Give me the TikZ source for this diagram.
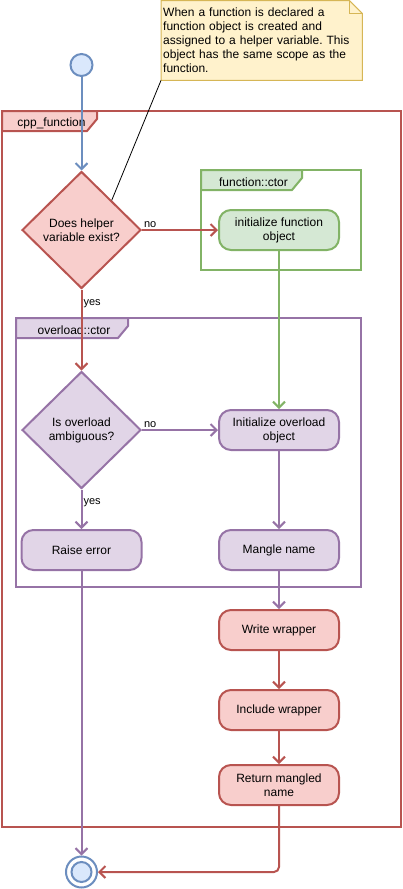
\documentclass[tikz,border=0pt]{standalone}
\usepackage{fontspec}
\setmainfont{Liberation Sans}
\usetikzlibrary{arrows.meta,shapes.geometric,backgrounds}
\definecolor{rd}{HTML}{B85450}\definecolor{rdf}{HTML}{F8CECC}
\definecolor{gn}{HTML}{82B366}\definecolor{gnf}{HTML}{D5E8D4}
\definecolor{pu}{HTML}{9673A6}\definecolor{puf}{HTML}{E1D5E7}
\definecolor{bl}{HTML}{6C8EBF}\definecolor{blf}{HTML}{DAE8FC}
\definecolor{nt}{HTML}{D6B656}\definecolor{ntf}{HTML}{FFF2CC}
\tikzset{>={Straight Barb[length=6pt,width=12pt]},every node/.style={font=\fontsize{12}{14}\selectfont,text=black},
act/.style={draw,line width=2pt,rounded corners=12pt,minimum width=120pt,minimum height=40pt,align=center,inner sep=0pt},
dec/.style={draw,line width=2pt,diamond,aspect=1,minimum width=119pt,minimum height=117pt,align=center,inner sep=0pt},
initial/.style={circle,draw=bl,fill=blf,line width=2pt,minimum size=22pt,inner sep=0pt},
final/.style={circle,draw=bl,fill=white,line width=2pt,minimum size=31pt,inner sep=0pt},
flow/.style={line width=2pt,->},frm/.style={line width=2pt},
lbl/.style={font=\fontsize{11}{13}\selectfont,inner sep=1pt},
notebox/.style={anchor=north west,text width=197pt,minimum height=79.5pt,inner sep=2pt,align=left}}
\newcommand{\umlframe}[8]{\draw[frm,#1] (#3,#4) rectangle (#5,#6);
\filldraw[frm,draw=#1,fill=#2] (#3,#4) -- ++(#7,0) -- ++(0,8) -- ++(-10,12) -- (#3,#4+20) -- cycle;
\node (tab-#1) at (#3+#7/2+2,#4+12) {#8};}
\frenchspacing

\begin{document}
\begin{tikzpicture}[x=1pt,y=-1pt]
\useasboundingbox (0,0) rectangle (403,889);
\umlframe{rd}{rdf}{2}{111}{401}{827}{95}{cpp\_function}
\umlframe{gn}{gnf}{201}{170}{361}{270}{101}{function::ctor}
\umlframe{pu}{puf}{16}{318}{361}{587}{112}{overload::ctor}
\node[notebox] (note) at (161,0.5) {When a function is declared a\\function object is created and\\assigned to a helper variable. This\\object has the same scope as the\\function.};
\begin{scope}[on background layer]
\filldraw[draw=nt,fill=ntf,line width=1pt] (note.north west) -- ([xshift=-13pt]note.north east) -- ([yshift=-13pt]note.north east) -- (note.south east) -- (note.south west) -- cycle;
\draw[nt,line width=1pt] ([xshift=-13pt]note.north east) |- ([yshift=-13pt]note.north east);
\end{scope}
\node[initial] (start) at (81.5,65) {};
\node[dec,draw=rd,fill=rdf] (helper) at (81.5,230) {Does helper\\variable exist?};
\node[act,draw=gn,fill=gnf] (initfun) at (279,230) {initialize function\\object};
\node[dec,draw=pu,fill=puf] (ambig) at (81.5,430) {Is overload\\ambiguous?};
\node[act,draw=pu,fill=puf] (initover) at (279,430) {Initialize overload\\object};
\node[act,draw=pu,fill=puf] (raise) at (81.5,550) {Raise error};
\node[act,draw=pu,fill=puf] (mangle) at (279,550) {Mangle name};
\node[act,draw=rd,fill=rdf] (write) at (279,630) {Write wrapper};
\node[act,draw=rd,fill=rdf] (include) at (279,710) {Include wrapper};
\node[act,draw=rd,fill=rdf] (ret) at (279,785) {Return mangled\\name};
\node[final] (stop) at (81.5,872) {};
\node[initial,minimum size=20pt] (stopin) at (stop) {};
\draw[line width=0.8pt] (note.south west) -- (helper.north east);
\draw[flow,bl] (start) -- (helper);
\draw[flow,rd] (helper) -- node[lbl,above right,pos=0]{no} (initfun);
\draw[flow,rd] (helper) -- node[lbl,right,pos=.17]{yes} (ambig);
\draw[flow,gn] (initfun) -- (initover);
\draw[flow,pu] (ambig) -- node[lbl,above right,pos=0]{no} (initover);
\draw[flow,pu] (ambig) -- node[lbl,right,pos=.34]{yes} (raise);
\draw[flow,pu] (initover) -- (mangle);
\draw[flow,pu] (mangle) -- (write);
\draw[flow,rd] (write) -- (include);
\draw[flow,rd] (include) -- (ret);
\draw[flow,pu] (raise) -- (stop);
\draw[flow,rd,rounded corners=5pt] (ret) |- (stop);
\end{tikzpicture}
\end{document}
